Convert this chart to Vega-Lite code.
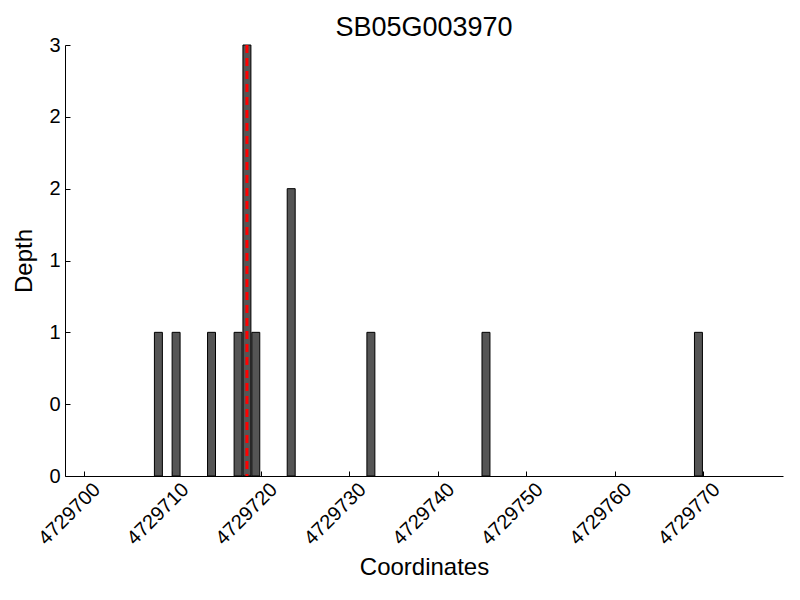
{
  "$schema": "https://vega.github.io/schema/vega-lite/v6.json",
  "autosize": "none",
  "width": 718,
  "height": 431,
  "padding": {"left": 65, "top": 45, "right": 17, "bottom": 124},
  "background": "white",
  "config": {
    "view": {"stroke": null},
    "font": "Liberation Sans",
    "axis": {"grid": false, "domainColor": "black", "tickColor": "black", "labelColor": "black", "titleColor": "black", "titleFontWeight": "normal", "labelFont": "Liberation Sans", "titleFont": "Liberation Sans"}
  },
  "title": {"text": "SB05G003970", "fontSize": 27, "fontWeight": "normal", "color": "black", "offset": 1, "dy": 8, "font": "Liberation Sans"},
  "layer": [
    {
      "data": {"values": [
        {"pos": 4729708, "depth": 1},
        {"pos": 4729710, "depth": 1},
        {"pos": 4729714, "depth": 1},
        {"pos": 4729717, "depth": 1},
        {"pos": 4729718, "depth": 3},
        {"pos": 4729719, "depth": 1},
        {"pos": 4729723, "depth": 2},
        {"pos": 4729732, "depth": 1},
        {"pos": 4729745, "depth": 1},
        {"pos": 4729769, "depth": 1}
      ]},
      "transform": [{"calculate": "datum.pos + 0.9", "as": "pos_end"}],
      "mark": {"type": "bar", "fill": "#555555", "stroke": "black", "strokeWidth": 1},
      "encoding": {
        "x": {
          "field": "pos", "type": "quantitative",
          "scale": {"domain": [4729697.9, 4729779], "nice": false, "zero": false},
          "axis": {
            "title": "Coordinates", "titleFontSize": 24, "titlePadding": 7,
            "values": [4729700, 4729710, 4729720, 4729730, 4729740, 4729750, 4729760, 4729770],
            "format": "d", "labelAngle": -45, "labelAlign": "right", "labelBaseline": "top",
            "labelFontSize": 20, "labelPadding": 8, "labelOffset": 6, "tickSize": -5, "labelFlush": false, "labelOverlap": false
          }
        },
        "x2": {"field": "pos_end"},
        "y": {
          "field": "depth", "type": "quantitative",
          "scale": {"domain": [0, 3], "nice": false},
          "axis": {
            "title": "Depth", "titleFontSize": 24, "titlePadding": 12,
            "values": [0, 0.5, 1, 1.5, 2, 2.5, 3],
            "labelExpr": "floor(datum.value)",
            "labelFontSize": 20, "labelPadding": 10, "tickSize": -5, "labelFlush": false, "labelOverlap": false
          }
        },
        "y2": {"datum": 0}
      }
    },
    {
      "data": {"values": [{"snp": 4729718.45}]},
      "mark": {"type": "rule", "color": "red", "strokeWidth": 3, "strokeDash": [8, 5]},
      "encoding": {
        "x": {"field": "snp", "type": "quantitative"}
      }
    }
  ]
}
